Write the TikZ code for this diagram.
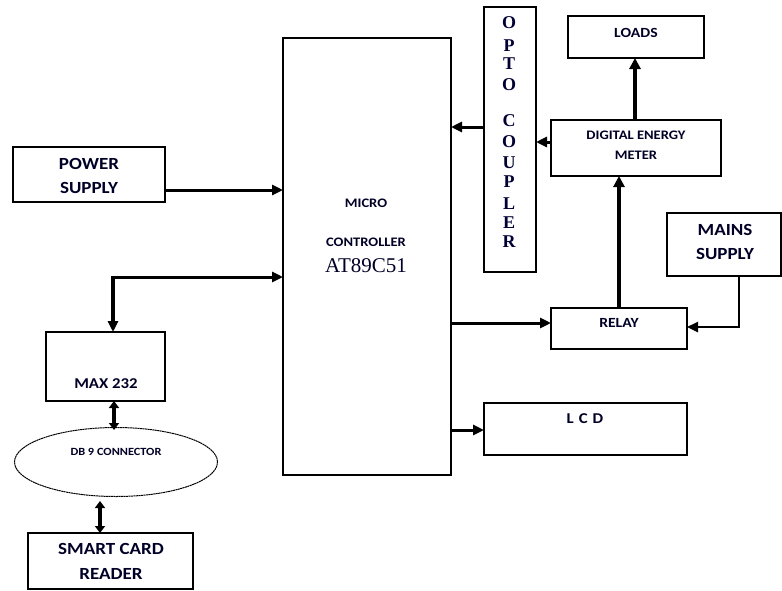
\documentclass[tikz,border=0pt]{standalone}
\usepackage{fontspec}
\setmainfont{Carlito}[FakeStretch=1.12]
\newfontfamily\serifb{Liberation Serif}[BoldFont={Liberation Serif Bold}]
\usetikzlibrary{arrows.meta,shapes.geometric}
\begin{document}
\begin{tikzpicture}[x=1pt,y=-1pt,
  blk/.style={draw,line width=1.8pt},
  lbl/.style={font=\bfseries\fontsize{#1}{#1}\selectfont,text=black!85!blue,inner sep=0pt,anchor=base},
  conn/.style={line width=3pt,-{Triangle[length=11pt,width=10pt]}},
  thk/.style={line width=4pt,-{Triangle[length=11pt,width=11pt]}},
  dbl/.style={line width=3.2pt,{Triangle[length=7pt,width=10pt]}-{Triangle[length=7pt,width=10pt]}}]
\useasboundingbox (0,0) rectangle (782,590);
% boxes
\draw[blk] (283,38) rectangle (451,475);
\node (mc) at (367,256) {};
\draw[blk] (13,147) rectangle (165,202);
\node (ps) at (89,175) {};
\draw[blk] (46,332) rectangle (165,401);
\node (max) at (105,366) {};
\node[draw,dash pattern=on 2pt off 0.5pt,line width=1pt,ellipse,minimum width=203pt,minimum height=69pt,inner sep=0pt] (db) at (116,462) {};
\draw[blk] (28,533) rectangle (193,589);
\node (sc) at (110,560) {};
\draw[blk] (484,7) rectangle (536,272);
\node (op) at (510,140) {};
\draw[blk] (568,16) rectangle (704,58);
\node (ld) at (636,37) {};
\draw[blk] (551,120) rectangle (721,176);
\node (dem) at (636,148) {};
\draw[blk] (551,308) rectangle (687,349);
\node (rl) at (619,328) {};
\draw[blk] (667,213) rectangle (781,276);
\node (ms) at (724,244) {};
\draw[blk] (484,403) rectangle (687,455);
\node (lcd) at (585,429) {};
% labels
\node[lbl=17] (t1) at (89,169) {POWER};
\node[lbl=17] (t2) at (89,193) {SUPPLY};
\node[lbl=13] (t3) at (366,207) {MICRO};
\node[lbl=13] (t4) at (366,246) {CONTROLLER};
\node[inner sep=0pt,anchor=base,font=\serifb\fontsize{21}{21}\selectfont,text=black!85!blue] (t5) at (366,272) {AT89C51};
\node[lbl=15] (t6) at (106,388) {MAX 232};
\node[lbl=11] (t7) at (116,455) {DB 9 CONNECTOR};
\node[lbl=17] (t8) at (111,554) {SMART CARD};
\node[lbl=17] (t9) at (111,579) {READER};
\node[lbl=14] (t10) at (636,37) {LOADS};
\node[lbl=13] (t11) at (636,139) {DIGITAL ENERGY};
\node[lbl=13] (t12) at (636,159) {METER};
\node[lbl=14] (t13) at (619,327) {RELAY};
\node[lbl=17] (t14) at (725,235) {MAINS};
\node[lbl=17] (t15) at (725,259) {SUPPLY};
\node[lbl=15] (t16) at (585,423) {L\,\,C\,\,D};
\foreach \ch/\yy [count=\i] in {O/28,P/51,T/69,O/90,C/126,O/147,U/168,P/187,L/209,E/228,R/247}
  \node[inner sep=0pt,anchor=base,font=\serifb\bfseries\fontsize{18}{18}\selectfont,text=black!80!blue] (oc\i) at (509,\yy) {\ch};
% connectors
\coordinate (psE) at (165,190);
\coordinate (mcA) at (283,190);
\draw[conn] (psE) -- (mcA);
\coordinate (jn) at (113,277);
\coordinate (mcB) at (283,277);
\coordinate (maxN) at (113,332);
\draw[conn] (jn) -- (mcB);
\draw[line width=3.5pt,-{Triangle[length=11pt,width=10pt]}] (113,275.5) -- (maxN);
\coordinate (m1) at (114,401);
\coordinate (m2) at (114,430);
\draw[dbl] (m1) -- (m2);
\coordinate (d1) at (100,501);
\coordinate (d2) at (100,533);
\draw[dbl] (d1) -- (d2);
\coordinate (opW) at (484,127);
\coordinate (mcO) at (451,127);
\draw[conn] (opW) -- (mcO);
\coordinate (demW) at (551,142);
\coordinate (opE) at (536,142);
\draw[conn] (demW) -- (opE);
\coordinate (demN) at (635,120);
\coordinate (ldS) at (635,58);
\draw[thk] (demN) -- (ldS);
\coordinate (rlN) at (619,308);
\coordinate (demS) at (619,176);
\draw[thk] (rlN) -- (demS);
\coordinate (mcR) at (451,323);
\coordinate (rlW) at (551,323);
\draw[conn] (mcR) -- (rlW);
\coordinate (msS) at (739,276);
\coordinate (rlE) at (687,327);
\draw[line width=2.4pt,-{Triangle[length=11pt,width=10pt]}] (msS) |- (rlE);
\coordinate (mcL) at (451,430);
\coordinate (lcdW) at (484,430);
\draw[conn] (mcL) -- (lcdW);
\end{tikzpicture}
\end{document}
